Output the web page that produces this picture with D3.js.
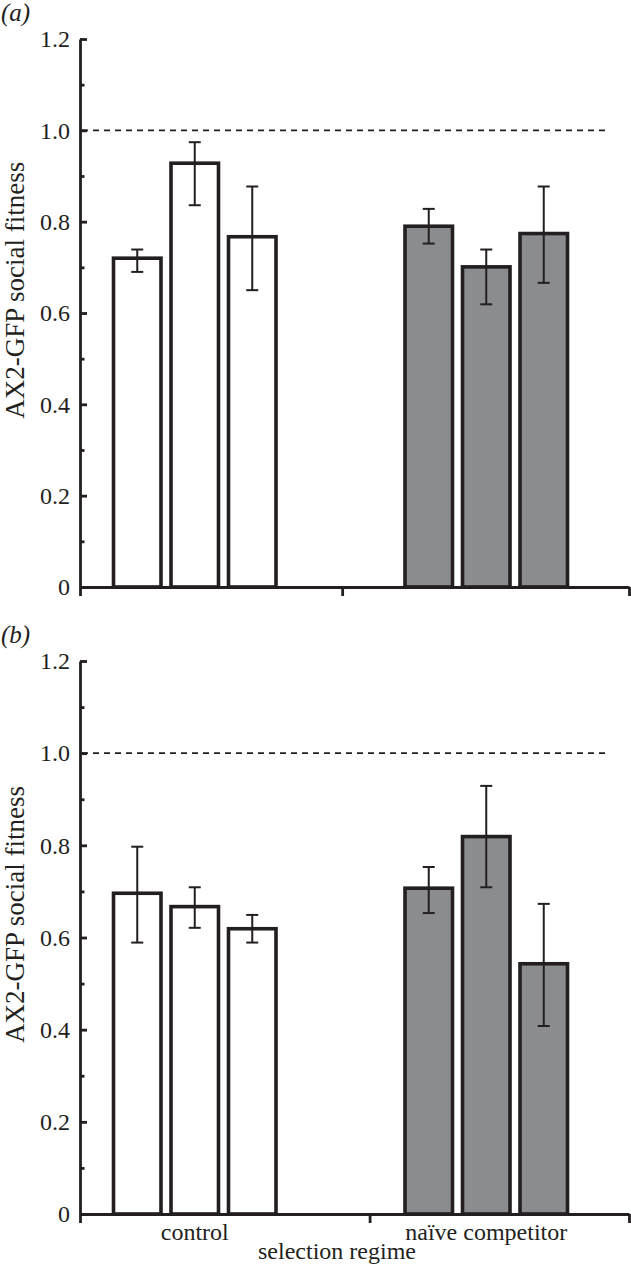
<!DOCTYPE html>
<html>
<head>
<meta charset="utf-8">
<script src="https://cdn.jsdelivr.net/npm/d3@7"></script>
<style>
  body { margin: 0; background: #fff; }
  text { font-family: "Liberation Serif", "Times New Roman", serif; fill: #231f20; }
</style>
</head>
<body>
<div class="container"></div>
<script>
// values
const groups = ["control", "naïve competitor"];
const lines = ["1", "2", "3"];
const yTicks = [0, 0.2, 0.4, 0.6, 0.8, 1.0, 1.2];
const yMinor = [0.1, 0.3, 0.5, 0.7, 0.9, 1.1];

// panel (a)
const meanA  = [0.720, 0.928, 0.767, 0.790, 0.701, 0.774];
const upperA = [0.739, 0.974, 0.877, 0.828, 0.739, 0.877];
const lowerA = [0.690, 0.836, 0.650, 0.752, 0.619, 0.666];

// panel (b)
const meanB  = [0.696, 0.667, 0.619, 0.707, 0.819, 0.543];
const upperB = [0.797, 0.709, 0.649, 0.753, 0.929, 0.673];
const lowerB = [0.589, 0.621, 0.589, 0.653, 0.709, 0.408];

const fills = ["#ffffff", "#8b8c8f"];
const ink = "#231f20";

const width = 631, height = 1269;
const svg = d3.select(".container").append("svg").attr("width", width).attr("height", height);

const xGroup = d3.scaleBand().domain(groups).range([49, 632]);
const xLine = d3.scaleBand().domain(lines).range([-81.25, 81.25]).paddingInner(0.174);

function panel(label, top, bottom, mean, upper, lower, divider, showX) {
    const y = d3.scaleLinear().domain([0, 1.2]).range([bottom, top]);
    const g = svg.append("g");

    const rows = mean.map((m, i) => ({
        group: groups[Math.floor(i / 3)],
        line: lines[i % 3],
        gi: Math.floor(i / 3),
        mean: m, hi: upper[i], lo: lower[i]
    }));
    const cx = d => xGroup(d.group) + xGroup.bandwidth() / 2 + xLine(d.line);

    // reference line at 1.0
    g.append("line")
        .attr("x1", 82).attr("x2", 607)
        .attr("y1", y(1)).attr("y2", y(1))
        .attr("stroke", ink).attr("stroke-width", 1.6)
        .attr("stroke-dasharray", "6,5");

    g.selectAll("rect.bar").data(rows).enter().append("rect")
        .attr("class", "bar")
        .attr("x", d => cx(d))
        .attr("y", d => y(d.mean))
        .attr("width", xLine.bandwidth())
        .attr("height", d => y(0) - y(d.mean))
        .attr("fill", d => fills[d.gi])
        .attr("stroke", ink).attr("stroke-width", 3.6);

    const err = g.selectAll("g.err").data(rows).enter().append("g")
        .attr("class", "err")
        .attr("stroke", ink).attr("stroke-width", 2);
    const mid = d => cx(d) + xLine.bandwidth() / 2;
    err.append("line").attr("x1", mid).attr("x2", mid).attr("y1", d => y(d.hi)).attr("y2", d => y(d.lo));
    err.append("line").attr("x1", d => mid(d) - 6).attr("x2", d => mid(d) + 6).attr("y1", d => y(d.hi)).attr("y2", d => y(d.hi));
    err.append("line").attr("x1", d => mid(d) - 6).attr("x2", d => mid(d) + 6).attr("y1", d => y(d.lo)).attr("y2", d => y(d.lo));

    // y axis, ticks pointing inward
    const yAxis = d3.axisLeft(y).tickValues(yTicks).tickSize(-7).tickSizeOuter(0).tickPadding(10)
        .tickFormat(d => d === 0 ? "0" : d3.format(".1f")(d));
    const ya = g.append("g").attr("transform", "translate(80,0)").call(yAxis);
    ya.selectAll("text").style("font-size", "24px").attr("fill", ink);
    g.append("g").attr("transform", "translate(80,0)")
        .call(d3.axisLeft(y).tickValues(yMinor).tickSize(-4.5).tickFormat(""))
        .select(".domain").remove();

    // x axis with group dividers
    const xs = d3.scaleLinear().domain([0, 2]).range([80, 629]);
    const xa = g.append("g").attr("transform", `translate(0,${bottom})`)
        .call(d3.axisBottom(xs).tickValues([0, divider, 2]).tickSize(9).tickSizeOuter(0).tickFormat(""));

    [ya, xa].forEach(a => {
        a.selectAll("path, line").attr("stroke", ink).attr("stroke-width", 2.8);
    });
    g.selectAll(".tick line").attr("stroke", ink).attr("stroke-width", 2.8);

    g.append("text")
        .attr("transform", `translate(24,${y(0.65)}) rotate(-90)`)
        .attr("text-anchor", "middle")
        .style("font-size", "27px")
        .text("AX2-GFP social fitness");

    g.append("text")
        .attr("x", 1).attr("y", top - 18)
        .style("font-size", "25px").style("font-style", "italic")
        .text(label);

    if (showX) {
        g.selectAll("text.grp").data(groups).enter().append("text")
            .attr("class", "grp")
            .attr("x", d => xGroup(d) + xGroup.bandwidth() / 2)
            .attr("y", bottom + 26)
            .attr("text-anchor", "middle")
            .style("font-size", "24px")
            .text(d => d);
        g.append("text")
            .attr("x", 337).attr("y", bottom + 45)
            .attr("text-anchor", "middle")
            .style("font-size", "24px")
            .text("selection regime");
    }
}

panel("(a)", 39, 587, meanA, upperA, lowerA, 0.955, false);
panel("(b)", 661, 1214, meanB, upperB, lowerB, 1.055, true);
</script>
</body>
</html>
